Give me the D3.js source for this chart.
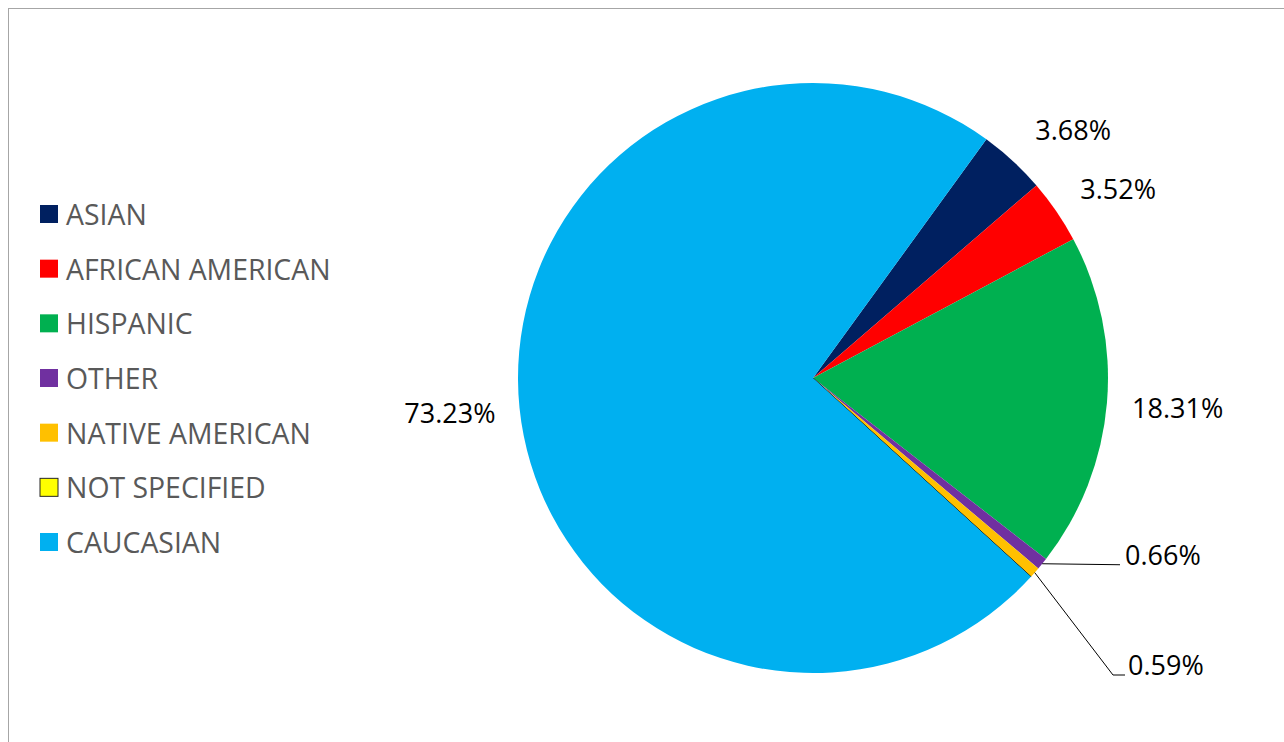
<!DOCTYPE html>
<html>
<head>
<meta charset="utf-8">
<script src="https://cdn.jsdelivr.net/npm/d3@7"></script>
<style>
  html, body { margin: 0; padding: 0; background: #fff; }
  svg { display: block; }
</style>
</head>
<body>
<svg id="chart" width="1284" height="742"></svg>
<script>
// ---- data ----
const categories = ["ASIAN", "AFRICAN AMERICAN", "HISPANIC", "OTHER", "NATIVE AMERICAN", "NOT SPECIFIED", "CAUCASIAN"];
const values = [3.68, 3.52, 18.31, 0.66, 0.59, 0.01, 73.23];
const labels = ["3.68%", "3.52%", "18.31%", "0.66%", "0.59%", "", "73.23%"];
const colors = ["#002060", "#FF0000", "#00B050", "#7030A0", "#FFC000", "#FFFF00", "#00B0F0"];

// ---- layout ----
const W = 1284, H = 742;
const cx = 813, cy = 378, R = 295;
const startDeg = 36;
const font = "'Open Sans', 'Noto Sans', sans-serif";

const svg = d3.select("#chart");

// chart border
svg.append("rect")
  .attr("x", 8.5).attr("y", 8.5)
  .attr("width", W + 10).attr("height", H + 10)
  .attr("fill", "none").attr("stroke", "#A6A6A6").attr("stroke-width", 1);

const data = categories.map((c, i) => ({ cat: c, value: values[i], label: labels[i], color: colors[i], idx: i }));

const start = startDeg * Math.PI / 180;
const pie = d3.pie().value(d => d.value).sort(null)
  .startAngle(start).endAngle(start + 2 * Math.PI);
const arcs = pie(data);
const arc = d3.arc().innerRadius(0).outerRadius(R);

const g = svg.append("g").attr("transform", `translate(${cx},${cy})`);
g.selectAll("path.slice").data(arcs).enter().append("path")
  .attr("class", "slice")
  .attr("d", arc)
  .attr("fill", d => d.data.color)
  .attr("stroke", d => d.data.cat === "NOT SPECIFIED" ? "#000" : "none")
  .attr("stroke-width", 0.75);

// ---- labels ----
const polar = (a, r) => [r * Math.sin(a), -r * Math.cos(a)];
const gap = 36, hw = 34, hh = 14;
const nudge = { "ASIAN": [13, 5], "AFRICAN AMERICAN": [4, 5], "HISPANIC": [1, 0] };

arcs.forEach(d => {
  if (!d.data.label) return;
  const mid = (d.startAngle + d.endAngle) / 2;
  const small = d.data.value < 2;
  if (!small) {
    const [px, py] = polar(mid, R + gap);
    const n = nudge[d.data.cat] || [0, 0];
    const x = px + hw * Math.sin(mid) + n[0];
    const y = py - hh * Math.cos(mid) + n[1];
    g.append("text")
      .attr("x", x).attr("y", y)
      .attr("text-anchor", "middle")
      .attr("dominant-baseline", "central")
      .attr("font-family", font).attr("font-size", 27)
      .attr("fill", "#000")
      .text(d.data.label);
  }
});

// leader-line labels for the thin slices
const leader = {
  "OTHER":           { elbow: null,        end: [307, null], text: [312, null] },
  "NATIVE AMERICAN": { elbow: [300, 297],  end: [312, 297],  text: [315, 297] }
};
arcs.forEach(d => {
  const L = leader[d.data.cat];
  if (!L) return;
  const mid = (d.startAngle + d.endAngle) / 2;
  const [ex, ey] = polar(mid, R);
  const pts = [[ex, ey]];
  if (L.elbow) pts.push(L.elbow);
  const end = [L.end[0], L.end[1] == null ? ey + 1 : L.end[1]];
  pts.push(end);
  g.append("path")
    .attr("d", d3.line()(pts))
    .attr("fill", "none").attr("stroke", "#000").attr("stroke-width", 1);
  g.append("text")
    .attr("x", L.text[0])
    .attr("y", L.text[1] == null ? end[1] : L.text[1])
    .attr("font-family", font).attr("font-size", 27)
    .attr("fill", "#000")
    .text(d.data.label);
});

// ---- legend ----
const legend = svg.append("g");
const ly = d3.scalePoint().domain(categories).range([214, 542]);
const items = legend.selectAll("g.item").data(data).enter().append("g")
  .attr("class", "item")
  .attr("transform", d => `translate(40,${ly(d.cat)})`);
items.append("rect")
  .attr("x", 0).attr("y", -9).attr("width", 18).attr("height", 18)
  .attr("fill", d => d.color)
  .attr("stroke", d => d.cat === "NOT SPECIFIED" ? "#262626" : "none")
  .attr("stroke-width", 1);
items.append("text")
  .attr("x", 26).attr("y", 0)
  .attr("dominant-baseline", "central")
  .attr("font-family", font).attr("font-size", 28.4)
  .attr("fill", "#595959")
  .text(d => d.cat);
</script>
</body>
</html>
